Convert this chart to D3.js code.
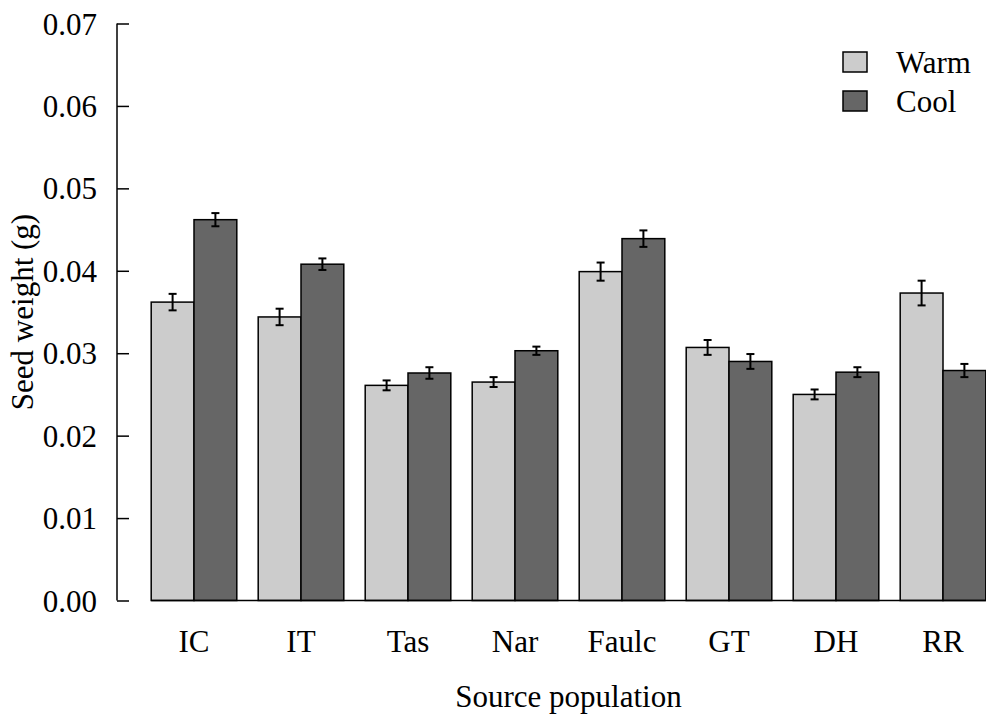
<!DOCTYPE html>
<html>
<head>
<meta charset="utf-8">
<script src="https://cdn.jsdelivr.net/npm/d3@7"></script>
<style>
  body { margin: 0; background: #fff; }
  text { font-family: "Liberation Serif", "Times New Roman", serif; fill: #000; }
</style>
</head>
<body>
<div id="chart"></div>
<script>
// data
var populations = ["IC", "IT", "Tas", "Nar", "Faulc", "GT", "DH", "RR"];
var treatments = ["Warm", "Cool"];
var warmMean = [0.0362, 0.0344, 0.0261, 0.0265, 0.0399, 0.0307, 0.0250, 0.0373];
var coolMean = [0.0462, 0.0408, 0.0276, 0.0303, 0.0439, 0.0290, 0.0277, 0.0279];
var warmSE = [0.0010, 0.0010, 0.0006, 0.0006, 0.0011, 0.0009, 0.0006, 0.0015];
var coolSE = [0.0008, 0.0007, 0.0007, 0.0005, 0.0010, 0.0009, 0.0006, 0.0008];
var yTicks = [0, 0.01, 0.02, 0.03, 0.04, 0.05, 0.06, 0.07];

var colors = { Warm: "#cccccc", Cool: "#666666" };

var W = 986, H = 716;
var fs = "31px";

var svg = d3.select("#chart")
    .append("svg")
    .attr("width", W)
    .attr("height", H);

// scales
var x0 = d3.scaleBand()
    .domain(populations)
    .range([151.2, 985.8])
    .paddingInner(0.2)
    .paddingOuter(0);

var x1 = d3.scaleBand()
    .domain(treatments)
    .range([0, x0.bandwidth()]);

var y = d3.scaleLinear()
    .domain([0, 0.07])
    .range([600.5, 23.5]);

// build rows
var rows = [];
populations.forEach(function (p, i) {
    rows.push({ pop: p, trt: "Warm", mean: warmMean[i], se: warmSE[i] });
    rows.push({ pop: p, trt: "Cool", mean: coolMean[i], se: coolSE[i] });
});

// bars
svg.append("g")
    .selectAll("rect")
    .data(rows)
    .enter()
    .append("rect")
    .attr("x", function (d) { return x0(d.pop) + x1(d.trt); })
    .attr("y", function (d) { return y(d.mean); })
    .attr("width", x1.bandwidth())
    .attr("height", function (d) { return y(0) - y(d.mean); })
    .attr("fill", function (d) { return colors[d.trt]; })
    .attr("stroke", "#000")
    .attr("stroke-width", 1.5);

// baseline under the bars
svg.append("line")
    .attr("x1", x0.range()[0])
    .attr("x2", x0.range()[1])
    .attr("y1", y(0))
    .attr("y2", y(0))
    .attr("stroke", "#000")
    .attr("stroke-width", 1.5);

// error bars
var eb = svg.append("g")
    .attr("stroke", "#000")
    .attr("stroke-width", 2);

rows.forEach(function (d) {
    var cx = x0(d.pop) + x1(d.trt) + x1.bandwidth() / 2;
    eb.append("line")
        .attr("x1", cx).attr("x2", cx)
        .attr("y1", y(d.mean - d.se)).attr("y2", y(d.mean + d.se));
    [d.mean - d.se, d.mean + d.se].forEach(function (v) {
        eb.append("line")
            .attr("x1", cx - 4).attr("x2", cx + 4)
            .attr("y1", y(v)).attr("y2", y(v));
    });
});

// y axis, ticks pointing inward
var yAxis = svg.append("g")
    .attr("transform", "translate(117,0)")
    .call(d3.axisRight(y)
        .tickValues(yTicks)
        .tickSize(12)
        .tickFormat(d3.format(".2f")));
yAxis.select(".domain").attr("d", "M0," + y(0) + "V" + y(0.07)).attr("stroke-width", 1.5);
yAxis.selectAll(".tick line").attr("stroke-width", 1.5);
yAxis.selectAll(".tick text")
    .attr("x", -20)
    .attr("dy", "0.34em")
    .attr("text-anchor", "end")
    .style("font-size", fs)
    .style("font-family", "Liberation Serif");

// x category labels
svg.append("g")
    .selectAll("text")
    .data(populations)
    .enter()
    .append("text")
    .attr("x", function (d) { return x0(d) + x0.bandwidth() / 2; })
    .attr("y", 652)
    .attr("text-anchor", "middle")
    .style("font-size", fs)
    .text(function (d) { return d; });

// axis titles
svg.append("text")
    .attr("x", (x0.range()[0] + x0.range()[1]) / 2)
    .attr("y", 707)
    .attr("text-anchor", "middle")
    .style("font-size", fs)
    .text("Source population");

svg.append("text")
    .attr("transform", "translate(33," + (y(0) + y(0.07)) / 2 + ") rotate(-90)")
    .attr("text-anchor", "middle")
    .style("font-size", fs)
    .text("Seed weight (g)");

// legend
var legend = svg.append("g")
    .selectAll("g")
    .data(treatments)
    .enter()
    .append("g")
    .attr("transform", function (d, i) { return "translate(843," + (52 + i * 39) + ")"; });

legend.append("rect")
    .attr("width", 24)
    .attr("height", 20)
    .attr("fill", function (d) { return colors[d]; })
    .attr("stroke", "#000")
    .attr("stroke-width", 1.5);

legend.append("text")
    .attr("x", 53)
    .attr("y", 21)
    .style("font-size", fs)
    .text(function (d) { return d; });
</script>
</body>
</html>
